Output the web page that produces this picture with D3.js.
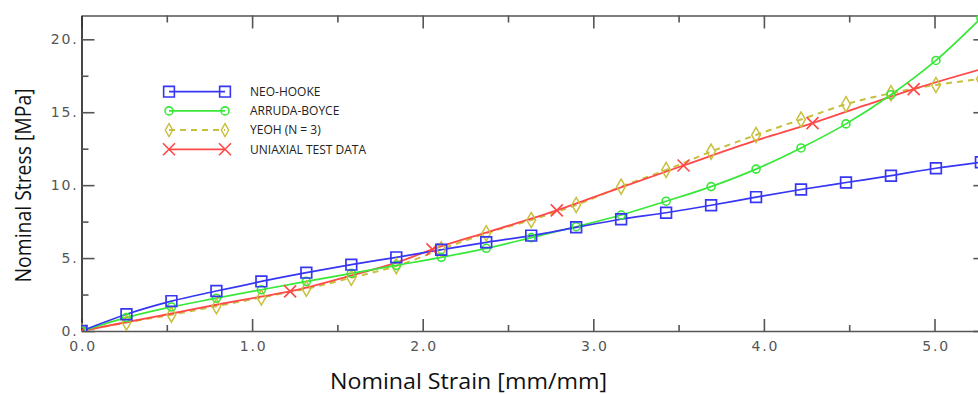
<!DOCTYPE html>
<html>
<head>
<meta charset="utf-8">
<script src="https://cdn.jsdelivr.net/npm/d3@7"></script>
<style>
  html, body { margin: 0; padding: 0; background: #fff; }
  svg { display: block; }
</style>
</head>
<body>
<svg id="chart" width="978" height="394"></svg>
<script>
// ---- data ----
const modelStrain = [0, 0.2636, 0.5272, 0.7908, 1.0544, 1.318, 1.5816, 1.8452, 2.1088, 2.3724, 2.636,
                     2.8996, 3.1632, 3.4268, 3.6904, 3.954, 4.2176, 4.4812, 4.7448, 5.0084, 5.272];
const neoHooke     = [0, 1.15, 2.05, 2.74, 3.4, 4.0, 4.55, 5.05, 5.57, 6.08, 6.54,
                      7.11, 7.66, 8.11, 8.62, 9.18, 9.7, 10.18, 10.65, 11.16, 11.57];
const arrudaBoyce  = [0, 0.92, 1.65, 2.25, 2.83, 3.4, 3.95, 4.5, 5.05, 5.67, 6.4,
                      7.15, 7.95, 8.9, 9.9, 11.1, 12.55, 14.2, 16.2, 18.55, 21.45];
const yeoh         = [0, 0.58, 1.12, 1.7, 2.3, 2.9, 3.65, 4.45, 5.6, 6.7, 7.61,
                      8.64, 9.9, 11.04, 12.3, 13.44, 14.5, 15.55, 16.3, 16.87, 17.28];
const testStrain   = [0, 0.26, 0.53, 0.79, 1.05, 1.223, 1.58, 1.85, 2.057, 2.4, 2.786,
                      3.15, 3.529, 3.95, 4.285, 4.6, 4.878, 5.26, 5.4];
const testStress   = [0, 0.6, 1.2, 1.8, 2.35, 2.72, 3.8, 4.7, 5.6, 6.85, 8.27,
                      9.8, 11.35, 13.05, 14.25, 15.5, 16.58, 17.9, 18.35];
const testMarkerIdx = [0, 5, 8, 10, 12, 14, 16];

const xMajor = [0, 1, 2, 3, 4, 5];
const xMinor = [0.5, 1.5, 2.5, 3.5, 4.5];
const yMajor = [0, 5, 10, 15, 20];
const yMinor = [2.5, 7.5, 12.5, 17.5];
const xLabels = ["0.0", "1.0", "2.0", "3.0", "4.0", "5.0"];
const yLabels = ["0.", "5.", "10.", "15.", "20."];

const seriesNames = ["NEO-HOOKE", "ARRUDA-BOYCE", "YEOH (N = 3)", "UNIAXIAL TEST DATA"];
const xTitle = "Nominal Strain [mm/mm]";
const yTitle = "Nominal Stress [MPa]";

// ---- layout ----
const L = 81.5, B = 331, T = 15.5;
const pxPerX = 170.6;
const xMax = 5.31;
const x = d3.scaleLinear().domain([0, xMax]).range([L, L + xMax * pxPerX]);
const y = d3.scaleLinear().domain([0, (B - T) / 14.585]).range([B, T]);
const R = x(xMax);

const svg = d3.select("#chart");

const C = { neo: "#3636f4", ab: "#38e838", yeoh: "#c8bf3c", test: "#ff4848" };
const axisColor = "#555";

// clip
svg.append("defs").append("clipPath").attr("id", "plotclip")
  .append("rect").attr("x", L).attr("y", T).attr("width", R - L).attr("height", B - T);

// ---- axes ----
function styleAxis(g) {
  g.selectAll("path.domain").attr("stroke", axisColor).attr("stroke-width", 1.6);
  g.selectAll(".tick line").attr("stroke", axisColor).attr("stroke-width", 1.6);
  g.selectAll(".tick text").attr("fill", "#555").attr("font-family", "DejaVu Sans, Verdana, sans-serif")
    .attr("font-size", 14).attr("letter-spacing", "1.8px");
}

// bottom
svg.append("g").attr("transform", `translate(0,${B})`)
  .call(d3.axisBottom(x).tickValues(xMajor).tickSize(-12).tickSizeOuter(0).tickPadding(10)
        .tickFormat((d, i) => xLabels[i]))
  .call(styleAxis)
  .call(g => g.selectAll(".tick text").attr("dx", "1px"));
svg.append("g").attr("transform", `translate(0,${B})`)
  .call(d3.axisBottom(x).tickValues(xMinor).tickSize(-6).tickFormat(""))
  .call(styleAxis).call(g => g.select("path.domain").remove());

// top
svg.append("g").attr("transform", `translate(0,${T})`)
  .call(d3.axisTop(x).tickValues(xMajor).tickSize(-13).tickSizeOuter(0).tickFormat(""))
  .call(styleAxis);
svg.append("g").attr("transform", `translate(0,${T})`)
  .call(d3.axisTop(x).tickValues(xMinor).tickSize(-7).tickFormat(""))
  .call(styleAxis).call(g => g.select("path.domain").remove());

// left
svg.append("g").attr("transform", `translate(${L},0)`)
  .call(d3.axisLeft(y).tickValues(yMajor).tickSize(-13).tickSizeOuter(0).tickPadding(3)
        .tickFormat((d, i) => yLabels[i]))
  .call(styleAxis)
  .call(g => g.select("path.domain").attr("stroke", "#333").attr("stroke-width", 1.8));
svg.append("g").attr("transform", `translate(${L},0)`)
  .call(d3.axisLeft(y).tickValues(yMinor).tickSize(-7).tickFormat(""))
  .call(styleAxis).call(g => g.select("path.domain").remove());

// right
svg.append("g").attr("transform", `translate(${R},0)`)
  .call(d3.axisRight(y).tickValues(yMajor).tickSize(-14).tickSizeOuter(0).tickFormat(""))
  .call(styleAxis);

// ---- series ----
const plot = svg.append("g").attr("clip-path", "url(#plotclip)");

const line = d3.line().x(d => x(d[0])).y(d => y(d[1])).curve(d3.curveMonotoneX);

const neoPts = modelStrain.map((s, i) => [s, neoHooke[i]]);
const abPts = modelStrain.map((s, i) => [s, arrudaBoyce[i]]);
const yeohPts = modelStrain.map((s, i) => [s, yeoh[i]]);
const testPts = testStrain.map((s, i) => [s, testStress[i]]);
const testMarks = testMarkerIdx.map(i => testPts[i]);

const squarePath = d3.symbol(d3.symbolSquare, 115)();
const circlePath = d3.symbol(d3.symbolCircle, 50)();
const diamondPath = d3.symbol(d3.symbolDiamond, 66)();
const xPath = "M-6,-6L6,6M-6,6L6,-6";

function drawLine(pts, color, dash, w) {
  plot.append("path").datum(pts).attr("d", line).attr("fill", "none")
    .attr("stroke", color).attr("stroke-width", w || 1.7)
    .attr("stroke-dasharray", dash || null);
}
function drawMarks(pts, pathStr, color, w) {
  plot.append("g").selectAll("path").data(pts).join("path")
    .attr("d", pathStr)
    .attr("transform", d => `translate(${x(d[0])},${y(d[1])})`)
    .attr("fill", "none").attr("stroke", color).attr("stroke-width", w || 1.6);
}

drawLine(yeohPts, C.yeoh, "6,5", 2);
drawLine(testPts, C.test, null, 1.8);
drawLine(abPts, C.ab, null, 1.7);
drawLine(neoPts, C.neo, null, 1.7);

drawMarks(yeohPts, diamondPath, C.yeoh, 1.5);
drawMarks(testMarks, xPath, C.test, 1.6);
drawMarks(abPts, circlePath, C.ab, 1.6);
drawMarks(neoPts, squarePath, C.neo, 1.7);

// ---- legend ----
const legendItems = [
  { name: seriesNames[0], color: C.neo, shape: squarePath, dash: null },
  { name: seriesNames[1], color: C.ab, shape: circlePath, dash: null },
  { name: seriesNames[2], color: C.yeoh, shape: diamondPath, dash: "6,5" },
  { name: seriesNames[3], color: C.test, shape: xPath, dash: null }
];
const lgX0 = 169, lgX1 = 225, lgTx = 250, lgY0 = 91.7, lgDy = 19.2;
const lg = svg.append("g");
legendItems.forEach((it, i) => {
  const cy = lgY0 + i * lgDy;
  lg.append("line").attr("x1", lgX0).attr("x2", lgX1).attr("y1", cy).attr("y2", cy)
    .attr("stroke", it.color).attr("stroke-width", it.dash ? 2 : 1.7).attr("stroke-dasharray", it.dash);
  [lgX0, lgX1].forEach(px => {
    lg.append("path").attr("d", it.shape).attr("transform", `translate(${px},${cy})` + (i === 2 ? " scale(0.85)" : ""))
      .attr("fill", "none").attr("stroke", it.color).attr("stroke-width", 1.6);
  });
  lg.append("text").attr("x", lgTx).attr("y", cy + 4.3).text(it.name)
    .attr("font-family", "Open Sans, sans-serif").attr("font-size", 12).attr("fill", "#222");
});

// ---- titles ----
svg.append("text").attr("x", 468.5).attr("y", 388.5).attr("text-anchor", "middle")
  .attr("font-family", "Open Sans, sans-serif").attr("font-size", 21).attr("fill", "#111")
  .attr("textLength", 277).attr("lengthAdjust", "spacingAndGlyphs")
  .text(xTitle);
svg.append("text").attr("transform", "translate(31,185.5) rotate(-90)").attr("text-anchor", "middle")
  .attr("font-family", "Open Sans, sans-serif").attr("font-size", 21).attr("fill", "#111")
  .attr("textLength", 194).attr("lengthAdjust", "spacingAndGlyphs")
  .text(yTitle);
</script>
</body>
</html>
